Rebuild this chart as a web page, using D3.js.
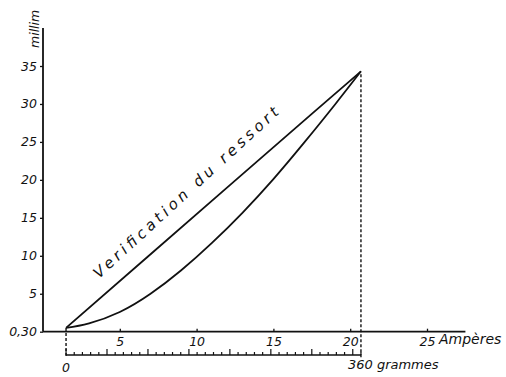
<!DOCTYPE html>
<html>
<head>
<meta charset="utf-8">
<script src="https://cdn.jsdelivr.net/npm/d3@7"></script>
<style>
  html, body { margin: 0; padding: 0; background: #fff; }
  svg { display: block; }
  text { font-family: "DejaVu Sans", sans-serif; font-style: italic; fill: #111; }
</style>
</head>
<body>
<svg id="chart" width="506" height="377"></svg>
<script>
// Courant (ampères) -> flèche (millimètres)
const currentAmps = [1.5, 3, 5, 7, 9, 11, 13, 15, 17, 19, 20.7];
const currentMm   = [0.5, 1.1, 2.6, 5.0, 8.1, 11.7, 15.7, 20.1, 24.9, 29.9, 34.3];

// Vérification du ressort : charge (grammes) -> flèche (millimètres)
const springGrams = [0, 100, 200, 300, 360];
const springMm    = [0.5, 9.9, 19.3, 28.7, 34.3];

// Graduations
const yTicks = [0, 5, 10, 15, 20, 25, 30, 35];
const yTickLabels = ["0,30", "5", "10", "15", "20", "25", "30", "35"];
const ampTicks = [5, 10, 15, 20, 25];
const gramMinor = d3.range(0, 361, 10);
const gramLabels = [{ g: 0, t: "0" }, { g: 360, t: "360 grammes" }];

const svg = d3.select("#chart");
const ink = "#111";

const x = d3.scaleLinear().domain([0, 25]).range([43, 427]);
const y = d3.scaleLinear().domain([0, 35]).range([331.7, 66]);
const g = d3.scaleLinear().domain([0, 360]).range([x(1.5), x(20.7)]);
const gramAxisY = 355;

// Axe vertical
svg.append("line")
  .attr("x1", x(0)).attr("x2", x(0))
  .attr("y1", y(40)).attr("y2", y(0))
  .attr("stroke", ink).attr("stroke-width", 1.8);

// Axe horizontal (ampères)
svg.append("line")
  .attr("x1", x(0)).attr("x2", x(27.5))
  .attr("y1", y(0)).attr("y2", y(0))
  .attr("stroke", ink).attr("stroke-width", 1.8);

// Graduations verticales
const yAxis = svg.append("g")
  .attr("transform", `translate(${x(0)},0)`)
  .call(d3.axisLeft(y).tickValues(yTicks)
    .tickFormat((d, i) => yTickLabels[i])
    .tickSizeInner(3).tickSizeOuter(0).tickPadding(3));
yAxis.select(".domain").remove();
yAxis.selectAll("line").attr("stroke", ink).attr("stroke-width", 1.3);
yAxis.selectAll("text").attr("font-size", 12.5).attr("fill", ink)
  .style("font-family", "'DejaVu Sans', sans-serif").style("font-style", "italic");

// Graduations ampères
const xAxis = svg.append("g")
  .attr("transform", `translate(0,${y(0)})`)
  .call(d3.axisBottom(x).tickValues(ampTicks)
    .tickSizeInner(-3).tickSizeOuter(0).tickPadding(5));
xAxis.select(".domain").remove();
xAxis.selectAll("line").attr("stroke", ink).attr("stroke-width", 1.3);
xAxis.selectAll("text").attr("font-size", 12.5).attr("fill", ink)
  .style("font-family", "'DejaVu Sans', sans-serif").style("font-style", "italic");

svg.append("text")
  .attr("x", x(25) + 12).attr("y", y(0) + 12)
  .attr("font-size", 14)
  .text("Ampères");

// Échelle des grammes
svg.append("line")
  .attr("x1", g(0)).attr("x2", g(360))
  .attr("y1", gramAxisY).attr("y2", gramAxisY)
  .attr("stroke", ink).attr("stroke-width", 1.5);
svg.append("g").selectAll("line")
  .data(gramMinor)
  .join("line")
  .attr("x1", d => g(d)).attr("x2", d => g(d))
  .attr("y1", gramAxisY)
  .attr("y2", d => gramAxisY - (d % 50 === 0 ? 6 : 3))
  .attr("stroke", ink).attr("stroke-width", 1.2);
svg.append("text")
  .attr("x", g(0)).attr("y", gramAxisY + 17)
  .attr("text-anchor", "middle").attr("font-size", 12.5)
  .text(gramLabels[0].t);
svg.append("text")
  .attr("x", g(360) - 13).attr("y", gramAxisY + 14)
  .attr("font-size", 13)
  .text(gramLabels[1].t);

// Repères pointillés
svg.append("line")
  .attr("x1", g(0)).attr("x2", g(0))
  .attr("y1", y(springMm[0])).attr("y2", gramAxisY + 2)
  .attr("stroke", ink).attr("stroke-width", 1.4).attr("stroke-dasharray", "3,2");
svg.append("line")
  .attr("x1", g(360)).attr("x2", g(360))
  .attr("y1", y(springMm[springMm.length - 1]) + 3).attr("y2", gramAxisY + 4)
  .attr("stroke", ink).attr("stroke-width", 1.4).attr("stroke-dasharray", "3,2");

// Courbes
const springPts = springGrams.map((gr, i) => [g(gr), y(springMm[i])]);
const currentPts = currentAmps.map((a, i) => [x(a), y(currentMm[i])]);

svg.append("path")
  .attr("d", d3.line().curve(d3.curveLinear)(springPts))
  .attr("fill", "none").attr("stroke", ink).attr("stroke-width", 1.8);
svg.append("path")
  .attr("d", d3.line().curve(d3.curveNatural)(currentPts))
  .attr("fill", "none").attr("stroke", ink).attr("stroke-width", 1.8);

// Légende de la droite
svg.append("text")
  .attr("transform", `translate(99,279) rotate(-42.5)`)
  .attr("font-size", 15)
  .attr("textLength", 245)
  .attr("lengthAdjust", "spacing")
  .text("Verification du ressort");

// Unité verticale
svg.append("text")
  .attr("transform", `translate(39,48) rotate(-90)`)
  .attr("font-size", 12.5)
  .text("millim");
</script>
</body>
</html>
